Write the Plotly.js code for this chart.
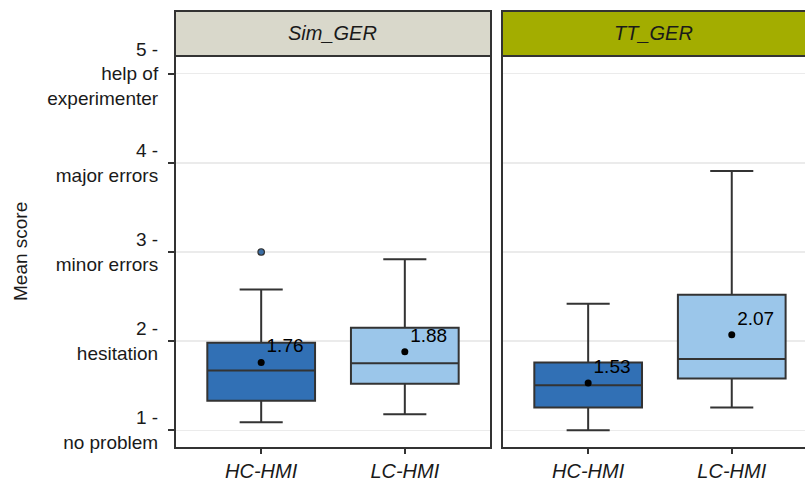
<!DOCTYPE html>
<html>
<head>
<meta charset="utf-8">
<script src="https://cdn.plot.ly/plotly-3.0.1.min.js"></script>
<style>html,body{margin:0;padding:0;background:#fff;}#chart{width:805px;height:481px;}</style>
</head>
<body>
<div id="chart"></div>
<script>
// ---- data ----
var groups = ['HC-HMI', 'LC-HMI'];
var panels = ['Sim_GER', 'TT_GER'];

var simLower  = [1.09, 1.18];
var simQ1     = [1.33, 1.52];
var simMedian = [1.67, 1.75];
var simQ3     = [1.98, 2.15];
var simUpper  = [2.58, 2.92];
var simMean   = [1.76, 1.88];
var simOutlierX = ['HC-HMI'];
var simOutlierY = [3.0];

var ttLower  = [1.0, 1.255];
var ttQ1     = [1.255, 1.58];
var ttMedian = [1.505, 1.80];
var ttQ3     = [1.76, 2.52];
var ttUpper  = [2.42, 3.91];
var ttMean   = [1.53, 2.07];

var yTickVals = [1, 2, 3, 4, 5];
var yTickText = ['1 -<br>no problem', '2 -<br>hesitation', '3 -<br>minor errors', '4 -<br>major errors', '5 -<br>help of<br>experimenter'];

var fillColors = ['#3170b5', '#9bc6ea'];
var lineColor = '#333333';
var font = 'Liberation Sans, Arial, sans-serif';

// ---- traces ----
var traces = [];
function addPanel(lower, q1, med, q3, upper, xa) {
  for (var i = 0; i < groups.length; i++) {
    traces.push({
      type: 'box', x: [groups[i]], lowerfence: [lower[i]], q1: [q1[i]], median: [med[i]],
      q3: [q3[i]], upperfence: [upper[i]], xaxis: xa, yaxis: xa === 'x' ? 'y' : 'y2',
      fillcolor: fillColors[i], line: {color: lineColor, width: 2},
      width: 0.75, whiskerwidth: 0.4, boxpoints: false, hoverinfo: 'skip', showlegend: false
    });
  }
}
addPanel(simLower, simQ1, simMedian, simQ3, simUpper, 'x');
addPanel(ttLower, ttQ1, ttMedian, ttQ3, ttUpper, 'x2');

traces.push({
  type: 'scatter', mode: 'markers', x: simOutlierX, y: simOutlierY, xaxis: 'x', yaxis: 'y',
  marker: {size: 6.5, color: '#3b6ea5', line: {color: lineColor, width: 1.2}}, showlegend: false, hoverinfo: 'skip'
});

function meanTrace(means, xa) {
  return {
    type: 'scatter', mode: 'markers+text', x: groups, y: means, xaxis: xa, yaxis: xa === 'x' ? 'y' : 'y2',
    text: means.map(function (v) { return v.toFixed(2); }), textposition: 'top right',
    textfont: {family: font, size: 19, color: '#000'},
    marker: {size: 7, color: '#000'}, showlegend: false, hoverinfo: 'skip', cliponaxis: false
  };
}
traces.push(meanTrace(simMean, 'x'));
traces.push(meanTrace(ttMean, 'x2'));

// ---- layout ----
var d1 = [175 / 805, 491 / 805];
var d2 = [502 / 805, 1];
var plotH = 481 - 56 - 33;
var stripTop = 1 + 45 / plotH;

var xCommon = {
  type: 'category', categoryorder: 'array', categoryarray: groups,
  showgrid: false, zeroline: false, showline: false,
  ticks: 'outside', ticklen: 5, tickwidth: 1.5, tickcolor: lineColor,
  tickfont: {family: font, size: 20, color: '#1a1a1a', style: 'italic'}, fixedrange: true
};
var yCommon = {
  range: [0.8, 5.2], tickvals: yTickVals, ticktext: yTickText,
  showgrid: true, gridcolor: '#ebebeb', gridwidth: 1.2, zeroline: false, showline: false,
  fixedrange: true
};

var layout = {
  width: 805, height: 481,
  margin: {l: 0, r: 0, t: 56, b: 33},
  paper_bgcolor: '#fff', plot_bgcolor: '#fff',
  font: {family: font, color: '#1a1a1a'},
  showlegend: false,
  xaxis: Object.assign({}, xCommon, {domain: d1, range: [-0.6, 1.6], anchor: 'y'}),
  xaxis2: Object.assign({}, xCommon, {domain: d2, range: [-0.6, 1.51], anchor: 'y2'}),
  yaxis: Object.assign({}, yCommon, {
    anchor: 'x', ticks: 'outside', ticklen: 6, tickwidth: 1.5, tickcolor: lineColor,
    tickfont: {family: font, size: 19, color: '#1a1a1a'}, ticklabelstandoff: 6
  }),
  yaxis2: Object.assign({}, yCommon, {anchor: 'x2', matches: 'y', showticklabels: false, ticks: ''}),
  shapes: [
    {type: 'rect', xref: 'paper', yref: 'paper', x0: d1[0], x1: d1[1], y0: 1, y1: stripTop,
      fillcolor: '#d9d8cb', line: {color: lineColor, width: 2}, layer: 'above'},
    {type: 'rect', xref: 'paper', yref: 'paper', x0: d2[0], x1: 1.02, y0: 1, y1: stripTop,
      fillcolor: '#a3ad00', line: {color: lineColor, width: 2}, layer: 'above'},
    {type: 'rect', xref: 'paper', yref: 'paper', x0: d1[0], x1: d1[1], y0: 0, y1: 1,
      line: {color: lineColor, width: 2}, layer: 'above'},
    {type: 'rect', xref: 'paper', yref: 'paper', x0: d2[0], x1: 1.02, y0: 0, y1: 1,
      line: {color: lineColor, width: 2}, layer: 'above'}
  ],
  annotations: [
    {text: panels[0], xref: 'paper', yref: 'paper', x: (d1[0] + d1[1]) / 2, y: (1 + stripTop) / 2,
      xanchor: 'center', yanchor: 'middle', showarrow: false,
      font: {family: font, size: 20, color: '#1a1a1a', style: 'italic'}},
    {text: panels[1], xref: 'paper', yref: 'paper', x: (d2[0] + 1.0) / 2, y: (1 + stripTop) / 2,
      xanchor: 'center', yanchor: 'middle', showarrow: false,
      font: {family: font, size: 20, color: '#1a1a1a', style: 'italic'}},
    {text: 'Mean score', xref: 'paper', yref: 'paper', x: 20 / 805, y: 0.5, textangle: -90,
      xanchor: 'center', yanchor: 'middle', showarrow: false,
      font: {family: font, size: 19, color: '#1a1a1a'}}
  ]
};

Plotly.newPlot('chart', traces, layout, {displayModeBar: false, staticPlot: true});
</script>
</body>
</html>
